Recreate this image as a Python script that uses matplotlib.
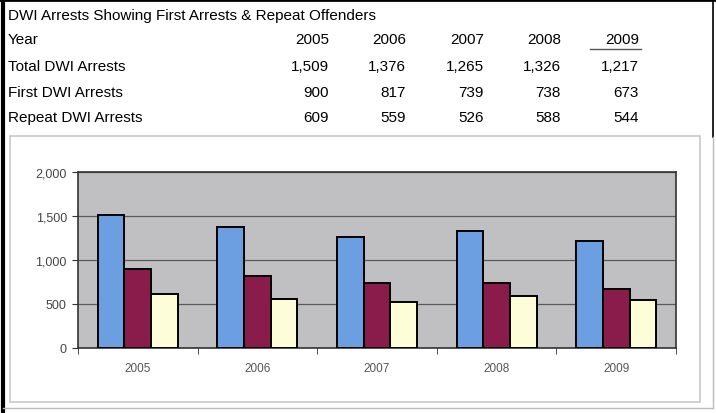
import numpy as np
import matplotlib.pyplot as plt
from matplotlib.patches import Rectangle
from matplotlib.lines import Line2D

plt.rcParams['font.family'] = ['Liberation Sans', 'DejaVu Sans']

# Dados da tabela
anos = ['2005', '2006', '2007', '2008', '2009']
total = [1509, 1376, 1265, 1326, 1217]
primeira = [900, 817, 739, 738, 673]
reincidente = [609, 559, 526, 588, 544]
linhas = ['Total DWI Arrests', 'First DWI Arrests', 'Repeat DWI Arrests']

W, H = 716, 414

def fx(x):
    return x / W

def fy(y):
    return 1 - y / H

fig = plt.figure(figsize=(W / 100, H / 100), dpi=100)
fig.patch.set_facecolor('white')

# Bordas externas
def linha(x0, y0, x1, y1, cor='black', lw=1.0):
    fig.add_artist(Line2D([fx(x0), fx(x1)], [fy(y0), fy(y1)], color=cor, lw=lw,
                          transform=fig.transFigure))

linha(0, 1, W, 1, lw=2)
linha(3, 0, 3, H, lw=3)
linha(713, 0, 713, 138, lw=1.2)
linha(713, 138, 713, 409, cor='#bbbbbb', lw=1)
linha(3, 409, 713, 409, cor='#bbbbbb', lw=1)

# Tabela
fs = 11
fig.text(fx(8), fy(16), 'DWI Arrests Showing First Arrests & Repeat Offenders',
         fontsize=fs, va='center', ha='left')
fig.text(fx(8), fy(40), 'Year', fontsize=fs, va='center', ha='left')
col_x = [329, 406, 484, 561, 639]
for cx, ano in zip(col_x, anos):
    fig.text(fx(cx), fy(40), ano, fontsize=fs, va='center', ha='right')
linha(590, 50, 641, 50, cor='#555555', lw=1)

for row_y, nome, vals in zip([67, 93, 118], linhas, [total, primeira, reincidente]):
    fig.text(fx(8), fy(row_y), nome, fontsize=fs, va='center', ha='left')
    for cx, v in zip(col_x, vals):
        fig.text(fx(cx), fy(row_y), f'{v:,}', fontsize=fs, va='center', ha='right')

# Caixa do gráfico
fig.add_artist(Rectangle((fx(10), fy(403)), fx(690), 266 / H, facecolor='white',
                         edgecolor='#c8c8c8', lw=1.2, transform=fig.transFigure,
                         zorder=-1))

# Gráfico de barras
ax = fig.add_axes([fx(78), fy(349), fx(676 - 78), (349 - 173) / H])
ax.set_zorder(2)
ax.set_facecolor('#c0c0c2')
x = np.arange(len(anos))
w = 0.223
cores = ['#6c9fe2', '#8a1c4b', '#fdfdd8']
for i, (vals, cor) in enumerate(zip([total, primeira, reincidente], cores)):
    ax.bar(x + (i - 1) * w, vals, w, color=cor, edgecolor='black', lw=1.4, zorder=3)

ax.set_xlim(-0.5, 4.5)
ax.set_ylim(0, 2000)
ax.set_yticks([0, 500, 1000, 1500, 2000])
ax.set_yticklabels(['0', '500', '1,000', '1,500', '2,000'])
ax.yaxis.grid(True, color='#5a5a5a', lw=0.9, zorder=1)
ax.set_axisbelow(True)
ax.set_xticks(x)
ax.set_xticklabels(anos)
ax.set_xticks(np.arange(-0.5, 5, 1), minor=True)
ax.tick_params(axis='x', which='major', length=0, pad=10, labelsize=8.5, labelcolor='#555555')
ax.tick_params(axis='x', which='minor', length=4, direction='out', color='#333333')
ax.tick_params(axis='y', length=4, pad=4, direction='out', labelsize=9, labelcolor='#444444',
               color='#333333')
for s in ax.spines.values():
    s.set_color('#333333')
    s.set_linewidth(1.2)

fig.savefig('out.png', dpi=100)
